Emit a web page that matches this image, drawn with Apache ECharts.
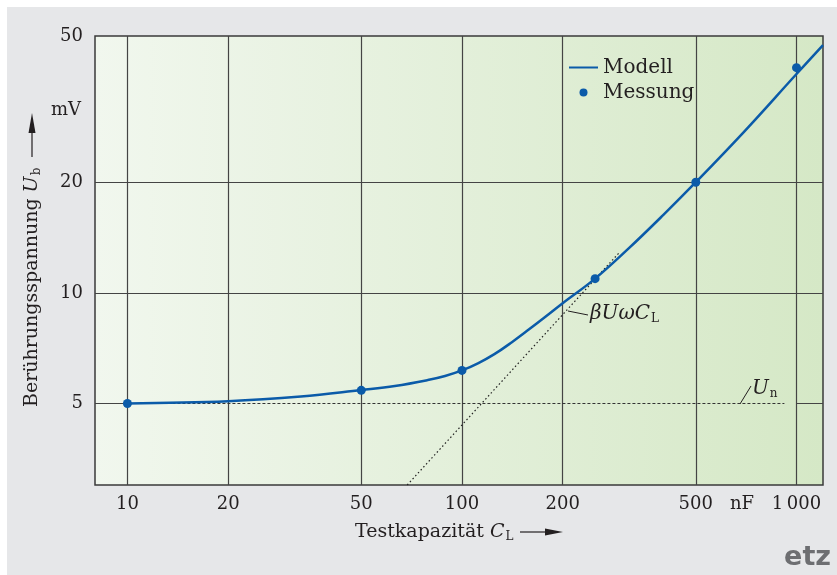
<!DOCTYPE html>
<html>
<head>
<meta charset="utf-8">
<script src="https://cdn.jsdelivr.net/npm/echarts@6/dist/echarts.min.js"></script>
<style>
html, body { margin: 0; padding: 0; background: #fff; }
#main { width: 837px; height: 575px; }
</style>
</head>
<body>
<div id="main"></div>
<script>
// Achsen (log-log), Testkapazität in nF, Spannung in mV
var xTicks = [10, 20, 50, 100, 200, 500, 1000];
var xTickLabels = ['10', '20', '50', '100', '200', '500', '1\u2009000'];
var yTicks = [5, 10, 20, 50];
var yTickLabels = ['5', '10', '20', '50'];
var yGridValues = [10, 20];

// Modellkurve
var modellC = [10, 20, 33, 50, 63, 79, 89, 100, 112, 125, 141, 158, 178, 200, 250, 315, 400, 500, 700, 1000, 1200];
var modellU = [5.0, 5.07, 5.22, 5.44, 5.58, 5.79, 5.94, 6.15, 6.44, 6.81, 7.34, 7.93, 8.62, 9.37, 10.93, 13.21, 16.3, 20.0, 27.56, 39.4, 47.2];

// Messpunkte
var messungC = [10, 50, 100, 250, 500, 1000];
var messungU = [5.0, 5.43, 6.15, 10.93, 20.0, 41.0];

// Asymptote beta*U*omega*C_L und Grundspannung U_n
var asymptoteC = [68.6, 296];
var asymptoteU = [3, 12.9];
var unC = [10, 920];
var unU = [5, 5];
// sichtbare Stücke der Gitterlinie bei 5 mV
var grid5C = [[8, 10], [1000, 1200]];

var serif = 'DejaVu Serif';
var textColor = '#231f20';
var blue = '#0b5ba9';

function lg(v) { return Math.log10(v); }
function pairs(cs, us) {
	var out = [];
	for (var i = 0; i < cs.length; i++) out.push([lg(cs[i]), lg(us[i])]);
	return out;
}
function labelFor(ticks, labels) {
	return function (v) {
		for (var i = 0; i < ticks.length; i++) {
			if (Math.abs(lg(ticks[i]) - v) < 1e-6) return labels[i];
		}
		return '';
	};
}

var myChart = echarts.init(document.getElementById('main'));

var series = [
	{
		name: 'Modell',
		type: 'line',
		data: pairs(modellC, modellU),
		smooth: 0.4,
		symbol: 'none',
		lineStyle: { color: blue, width: 2.5 },
		itemStyle: { color: blue },
		z: 5
	},
	{
		name: 'Messung',
		type: 'scatter',
		data: pairs(messungC, messungU),
		symbolSize: 9,
		itemStyle: { color: blue, opacity: 1 },
		z: 6
	},
	{
		name: 'asymptote',
		type: 'line',
		data: pairs(asymptoteC, asymptoteU),
		symbol: 'none',
		lineStyle: { color: '#222', width: 1.2, type: [1.5, 2.5] },
		z: 3
	},
	{
		name: 'un',
		type: 'line',
		data: pairs(unC, unU),
		symbol: 'none',
		lineStyle: { color: '#333', width: 1.2, type: [3, 2] },
		z: 3
	}
];
for (var s = 0; s < grid5C.length; s++) {
	series.push({
		name: 'grid5_' + s,
		type: 'line',
		data: pairs(grid5C[s], [5, 5]),
		symbol: 'none',
		lineStyle: { color: '#444', width: 1.2 },
		z: 2
	});
}

var option = {
	animation: false,
	backgroundColor: '#fff',
	grid: {
		left: 95, top: 36, right: 14, bottom: 90,
		show: true,
		borderColor: '#3a3a3a',
		borderWidth: 1.5,
		backgroundColor: {
			type: 'linear', x: 0, y: 0, x2: 1, y2: 0,
			colorStops: [
				{ offset: 0, color: '#f1f7ee' },
				{ offset: 1, color: '#d5e8c6' }
			]
		}
	},
	legend: {
		data: [
			{ name: 'Modell', itemStyle: { opacity: 0 } },
			{ name: 'Messung' }
		],
		orient: 'vertical',
		left: 568,
		top: 55,
		padding: 0,
		itemWidth: 29,
		itemHeight: 8,
		itemGap: 0,
		textStyle: { fontFamily: serif, fontSize: 20, color: textColor, lineHeight: 25 }
	},
	xAxis: {
		type: 'value',
		min: lg(8),
		max: lg(1200),
		axisLine: { show: false },
		axisTick: { show: false, customValues: xTicks.map(lg) },
		axisLabel: {
			customValues: xTicks.map(lg),
			formatter: labelFor(xTicks, xTickLabels),
			margin: 10,
			fontFamily: serif,
			fontSize: 18,
			color: textColor
		},
		splitLine: { show: true, lineStyle: { color: '#444', width: 1.2 } }
	},
	yAxis: {
		type: 'value',
		min: lg(3),
		max: lg(50),
		axisLine: { show: false },
		axisTick: { show: false, customValues: yGridValues.map(lg) },
		axisLabel: {
			customValues: yTicks.map(lg),
			formatter: labelFor(yTicks, yTickLabels),
			showMaxLabel: true,
			margin: 12,
			fontFamily: serif,
			fontSize: 18,
			color: textColor
		},
		splitLine: { show: true, lineStyle: { color: '#444', width: 1.2 } }
	},
	graphic: [
		{ type: 'rect', z: -100, shape: { x: 7, y: 7, width: 830, height: 568 }, style: { fill: '#e6e7e9' } },
		{ type: 'text', x: 81, y: 110, style: { text: 'mV', fontFamily: serif, fontSize: 18, fill: textColor, align: 'right', verticalAlign: 'middle' } },
		{ type: 'text', x: 742, y: 504, style: { text: 'nF', fontFamily: serif, fontSize: 18, fill: textColor, align: 'center', verticalAlign: 'middle' } },
		// x-Achsentitel
		{
			type: 'text', x: 355, y: 532,
			style: {
				text: '{a|Testkapazität }{i|C}{s|L}',
				verticalAlign: 'middle',
				rich: {
					a: { fontFamily: serif, fontSize: 19, fill: textColor, lineHeight: 24 },
					i: { fontFamily: serif, fontSize: 19, fontStyle: 'italic', fill: textColor, lineHeight: 24 },
					s: { fontFamily: serif, fontSize: 12, fill: textColor, lineHeight: 14, padding: [10, 0, 0, 1] }
				}
			}
		},
		{ type: 'line', shape: { x1: 520, y1: 532, x2: 550, y2: 532 }, style: { stroke: textColor, lineWidth: 1.2 } },
		{ type: 'polygon', shape: { points: [[545, 528.5], [563, 532], [545, 535.5]] }, style: { fill: textColor } },
		// y-Achsentitel
		{
			type: 'group', x: 32, y: 407, rotation: Math.PI / 2,
			children: [
				{
					type: 'text', x: 0, y: 0,
					style: {
						text: '{a|Berührungsspannung }{i|U}{s|b}',
						verticalAlign: 'middle',
						rich: {
							a: { fontFamily: serif, fontSize: 19, fill: textColor, lineHeight: 24 },
							i: { fontFamily: serif, fontSize: 19, fontStyle: 'italic', fill: textColor, lineHeight: 24 },
							s: { fontFamily: serif, fontSize: 12, fill: textColor, lineHeight: 14, padding: [10, 0, 0, 1] }
						}
					}
				},
				{ type: 'line', shape: { x1: 250, y1: 0, x2: 280, y2: 0 }, style: { stroke: textColor, lineWidth: 1.2 } },
				{ type: 'polygon', shape: { points: [[274, -3.5], [294, 0], [274, 3.5]] }, style: { fill: textColor } }
			]
		},
		// Beschriftung Asymptote
		{ type: 'line', shape: { x1: 568, y1: 311, x2: 588, y2: 315 }, style: { stroke: textColor, lineWidth: 1 } },
		{
			type: 'text', x: 590, y: 314,
			style: {
				text: '{i|βUωC}{s|L}',
				verticalAlign: 'middle',
				rich: {
					i: { fontFamily: serif, fontSize: 20, fontStyle: 'italic', fill: textColor, lineHeight: 24 },
					s: { fontFamily: serif, fontSize: 12, fill: textColor, lineHeight: 14, padding: [10, 0, 0, 1] }
				}
			}
		},
		// Beschriftung U_n
		{ type: 'line', shape: { x1: 740, y1: 404, x2: 751, y2: 386 }, style: { stroke: textColor, lineWidth: 1 } },
		{
			type: 'text', x: 752, y: 389,
			style: {
				text: '{i|U}{s|n}',
				verticalAlign: 'middle',
				rich: {
					i: { fontFamily: serif, fontSize: 20, fontStyle: 'italic', fill: textColor, lineHeight: 24 },
					s: { fontFamily: serif, fontSize: 12, fill: textColor, lineHeight: 14, padding: [10, 0, 0, 1] }
				}
			}
		},
		// Logo
		{ type: 'text', x: 831, y: 558, style: { text: 'etz', fontFamily: 'DejaVu Sans', fontWeight: 'bold', fontSize: 27, fill: '#6d6e71', align: 'right', verticalAlign: 'middle' } }
	],
	series: series
};

myChart.setOption(option);
</script>
</body>
</html>
